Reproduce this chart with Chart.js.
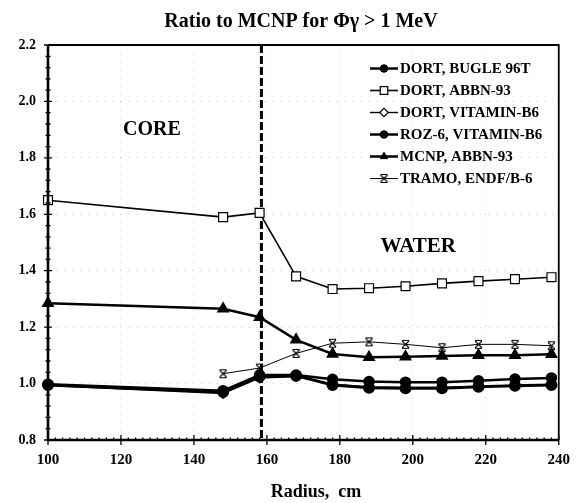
<!DOCTYPE html>
<html>
<head>
<meta charset="utf-8">
<script src="https://cdn.jsdelivr.net/npm/chart.js@4/dist/chart.umd.min.js"></script>
<style>
  html, body { margin: 0; padding: 0; background: #fff; }
  #wrap { width: 581px; height: 503px; position: relative; }
</style>
</head>
<body>
<div id="wrap"><canvas id="ratioChart"></canvas></div>
<script>
// radius points (cm) and ratios to MCNP, photon flux above 1 MeV
const radius = [100, 148, 158, 168, 178, 188, 198, 208, 218, 228, 238];
const dortBugle  = [0.995, 0.970, 1.025, 1.028, 0.995, 0.985, 0.983, 0.983, 0.989, 0.992, 0.995];
const dortAbbn   = [1.650, 1.590, 1.605, 1.380, 1.335, 1.338, 1.345, 1.355, 1.363, 1.370, 1.377];
const dortVitB6  = [0.993, 0.965, 1.020, 1.025, 0.998, 0.988, 0.986, 0.986, 0.990, 0.993, 0.996];
const rozVitB6   = [0.998, 0.975, 1.030, 1.030, 1.015, 1.007, 1.005, 1.005, 1.010, 1.016, 1.020];
const mcnpAbbn   = [1.285, 1.265, 1.235, 1.155, 1.105, 1.093, 1.095, 1.098, 1.100, 1.100, 1.104];
const tramoRadius = [148, 158, 168, 178, 188, 198, 208, 218, 228, 238];
const tramoEndf  = [1.035, 1.055, 1.107, 1.143, 1.148, 1.139, 1.127, 1.139, 1.139, 1.134];

const xTicks = [100, 120, 140, 160, 180, 200, 220, 240];
const yTicks = [0.8, 1.0, 1.2, 1.4, 1.6, 1.8, 2.0, 2.2];
const coreBoundary = 158.5;

const serif = '"Liberation Serif", "Times New Roman", serif';

// TRAMO marker: an X closed by short bars top and bottom
function tramoMarker() {
  const c = document.createElement('canvas');
  c.width = 11; c.height = 11;
  const g = c.getContext('2d');
  g.strokeStyle = '#000';
  g.lineWidth = 1.1;
  g.beginPath();
  g.moveTo(2, 2); g.lineTo(9, 9);
  g.moveTo(9, 2); g.lineTo(2, 9);
  g.moveTo(2, 1.5); g.lineTo(9, 1.5);
  g.moveTo(2, 9.5); g.lineTo(9, 9.5);
  g.stroke();
  return c;
}

function pairs(xs, ys) { return xs.map((x, i) => ({ x: x, y: ys[i] })); }

const datasets = [
  { label: 'DORT, BUGLE 96T', data: pairs(radius, dortBugle), borderColor: '#000', borderWidth: 3,
    pointStyle: 'circle', pointRadius: 4.5, pointBackgroundColor: '#000', pointBorderColor: '#000' },
  { label: 'DORT, ABBN-93', data: pairs(radius, dortAbbn), borderColor: '#000', borderWidth: 1.6,
    pointStyle: 'rect', pointRadius: 6.3, pointBackgroundColor: '#fff', pointBorderColor: '#000', pointBorderWidth: 1.2 },
  { label: 'DORT, VITAMIN-B6', data: pairs(radius, dortVitB6), borderColor: '#000', borderWidth: 1.4,
    pointStyle: 'rectRot', pointRadius: 5, pointBackgroundColor: '#fff', pointBorderColor: '#000', pointBorderWidth: 1.2 },
  { label: 'ROZ-6, VITAMIN-B6', data: pairs(radius, rozVitB6), borderColor: '#000', borderWidth: 2.5,
    pointStyle: 'circle', pointRadius: 4.5, pointBackgroundColor: '#000', pointBorderColor: '#000' },
  { label: 'MCNP, ABBN-93', data: pairs(radius, mcnpAbbn), borderColor: '#000', borderWidth: 2.5,
    pointStyle: 'triangle', pointRadius: 5, pointBackgroundColor: '#000', pointBorderColor: '#000' },
  { label: 'TRAMO, ENDF/B-6', data: pairs(tramoRadius, tramoEndf), borderColor: '#000', borderWidth: 1,
    pointStyle: tramoMarker(), pointRadius: 5, pointBackgroundColor: '#fff', pointBorderColor: '#000' }
];
datasets.forEach(d => { d.fill = false; d.tension = 0; d.clip = false; });

// frame, tick marks, region divider, labels and legend
const decorations = {
  id: 'decorations',
  beforeDatasetsDraw(chart) {
    const { ctx, chartArea: a, scales: { x } } = chart;
    ctx.save();
    // core / water boundary
    const bx = x.getPixelForValue(coreBoundary);
    ctx.strokeStyle = '#000';
    ctx.lineWidth = 3;
    ctx.setLineDash([8, 3]);
    ctx.beginPath();
    ctx.moveTo(bx, a.top);
    ctx.lineTo(bx, a.bottom);
    ctx.stroke();
    ctx.restore();
  },
  afterDatasetsDraw(chart) {
    const { ctx, chartArea: a, scales: { x, y } } = chart;
    ctx.save();
    ctx.strokeStyle = '#000';
    ctx.setLineDash([]);
    // frame
    ctx.lineWidth = 1.8;
    ctx.beginPath();
    ctx.moveTo(a.left, a.top); ctx.lineTo(a.right, a.top); ctx.lineTo(a.right, a.bottom);
    ctx.stroke();
    ctx.lineWidth = 2.6;
    ctx.beginPath();
    ctx.moveTo(a.left, a.top); ctx.lineTo(a.left, a.bottom); ctx.lineTo(a.right, a.bottom);
    ctx.stroke();
    // y ticks: major every 0.2, minor every 0.04
    ctx.lineWidth = 1.3;
    ctx.beginPath();
    for (let i = 0; i <= 35; i++) {
      const py = y.getPixelForValue(0.8 + i * 0.04);
      const len = i % 5 === 0 ? 4 : 2.5;
      ctx.moveTo(a.left - len, py); ctx.lineTo(a.left + len, py);
    }
    // x ticks: major every 20, minor every 2
    for (let i = 0; i <= 70; i++) {
      const px = x.getPixelForValue(100 + i * 2);
      const len = i % 10 === 0 ? 5 : 2.5;
      ctx.moveTo(px, a.bottom - len); ctx.lineTo(px, a.bottom + (i % 10 === 0 ? len : 0));
    }
    ctx.stroke();

    // text
    ctx.fillStyle = '#000';
    ctx.textAlign = 'center';
    ctx.textBaseline = 'middle';
    ctx.font = 'bold 20px ' + serif;
    ctx.fillText('Ratio to MCNP for \u03A6\u03B3 > 1 MeV', a.left + 253, 22);
    ctx.font = 'bold 18px ' + serif;
    ctx.fillText('Radius,  cm', a.left + 268, 492);
    ctx.font = 'bold 20px ' + serif;
    ctx.fillText('CORE', x.getPixelForValue(128.5), y.getPixelForValue(1.9));
    ctx.font = 'bold 21px ' + serif;
    ctx.fillText('WATER', x.getPixelForValue(201.5), y.getPixelForValue(1.485));

    // legend
    ctx.font = 'bold 15px ' + serif;
    ctx.textAlign = 'left';
    chart.data.datasets.forEach((d, i) => {
      const ly = a.top + 23.5 + i * 22;
      const lx = a.left + 322;
      ctx.strokeStyle = '#000';
      ctx.lineWidth = Math.min(d.borderWidth, 2.5);
      ctx.beginPath();
      ctx.moveTo(lx, ly); ctx.lineTo(lx + 28, ly);
      ctx.stroke();
      ctx.fillStyle = d.pointBackgroundColor;
      ctx.lineWidth = d.pointBorderWidth || 1;
      if (d.pointStyle instanceof HTMLCanvasElement) {
        ctx.drawImage(d.pointStyle, lx + 14 - 5.5, ly - 5.5);
      } else {
        Chart.helpers.drawPoint(ctx, { pointStyle: d.pointStyle, radius: d.pointRadius * 0.85, borderWidth: ctx.lineWidth }, lx + 14, ly);
      }
      ctx.fillStyle = '#000';
      ctx.fillText(d.label, lx + 30, ly + 1);
    });
    ctx.restore();
  }
};

new Chart(document.getElementById('ratioChart'), {
  type: 'line',
  data: { datasets: datasets },
  options: {
    responsive: true,
    maintainAspectRatio: false,
    animation: false,
    layout: { padding: { top: 45, right: 16, left: 0, bottom: 0 } },
    plugins: { legend: { display: false }, title: { display: false }, tooltip: { enabled: false } },
    scales: {
      x: {
        type: 'linear', min: 100, max: 240,
        afterFit: s => { s.height = 63; },
        afterBuildTicks: s => { s.ticks = xTicks.map(v => ({ value: v })); },
        grid: { display: true, drawTicks: false, color: 'rgba(0,0,0,0.1)', lineWidth: 1 },
        border: { display: false, dash: [2, 6] },
        ticks: { padding: 11, color: '#000', maxRotation: 0, font: { family: serif, weight: 'bold', size: 15 } }
      },
      y: {
        type: 'linear', min: 0.8, max: 2.2,
        afterFit: s => { s.width = 48; },
        afterBuildTicks: s => { s.ticks = yTicks.map(v => ({ value: v })); },
        grid: { display: true, drawTicks: false, color: 'rgba(0,0,0,0.1)', lineWidth: 1 },
        border: { display: false, dash: [2, 6] },
        ticks: { padding: 12, color: '#000', callback: v => v.toFixed(1), font: { family: serif, weight: 'bold', size: 14 } }
      }
    }
  },
  plugins: [decorations]
});
</script>
</body>
</html>
